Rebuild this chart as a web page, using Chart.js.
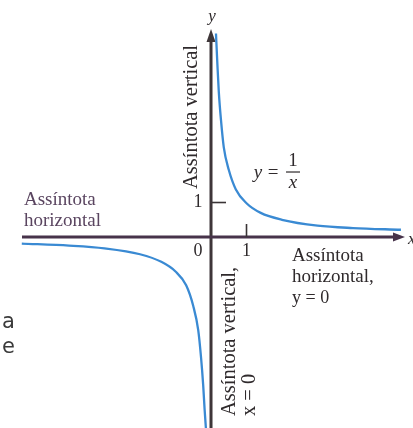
<!DOCTYPE html>
<html>
<head>
<meta charset="utf-8">
<script src="https://cdn.jsdelivr.net/npm/chart.js@4"></script>
<style>
  html, body { margin: 0; padding: 0; background: #ffffff; }
  #wrap { position: relative; width: 413px; height: 428px; }
</style>
</head>
<body>
<div id="wrap"><canvas id="c"></canvas></div>
<script>
// Values: right branch (x > 0) and left branch (x < 0)
const rightX = [0.14, 0.18, 0.22, 0.28, 0.36, 0.5, 0.7, 1.0, 1.4, 2.0, 3.0, 4.0, 5.35];
const rightY = [5.9, 5.0, 4.2, 3.4, 2.6, 1.95, 1.38, 0.98, 0.7, 0.5, 0.33, 0.26, 0.21];
const leftX  = [-5.33, -4.0, -3.0, -2.0, -1.4, -1.0, -0.7, -0.5, -0.36, -0.28, -0.22, -0.18, -0.14];
const leftY  = [-0.19, -0.25, -0.33, -0.5, -0.72, -1.0, -1.4, -2.0, -2.7, -3.5, -4.3, -5.0, -5.6];

// Tick values and labels
const xTickValues = [1];
const yTickValues = [1];
const originLabel = '0';

// Text labels
const axisNames = { x: 'x', y: 'y' };
const leftHorizontalLabel = ['Assíntota', 'horizontal'];
const rightHorizontalLabel = ['Assíntota', 'horizontal,', 'y = 0'];
const upperVerticalLabel = 'Assíntota vertical';
const lowerVerticalLabel = ['Assíntota vertical,', 'x = 0'];
const curveLabel = { lhs: 'y', eq: '=', num: '1', den: 'x' };
const pageFragments = ['a', 'e'];

const toPoints = (xs, ys) => xs.map((x, i) => ({ x: x, y: ys[i] }));

const SERIF = '"Liberation Serif", "DejaVu Serif", serif';

const annot = {
  id: 'annot',
  beforeDatasetsDraw(chart) {
    const ctx = chart.ctx;
    const xs = chart.scales.x, ys = chart.scales.y;
    const ox = xs.getPixelForValue(0), oy = ys.getPixelForValue(0);
    const area = chart.chartArea;
    ctx.save();
    // y axis
    ctx.strokeStyle = '#3e3639';
    ctx.fillStyle = '#3e3639';
    ctx.lineWidth = 3;
    ctx.beginPath();
    ctx.moveTo(ox, area.bottom);
    ctx.lineTo(ox, area.top + 38);
    ctx.stroke();
    ctx.beginPath();
    ctx.moveTo(ox, area.top + 29);
    ctx.lineTo(ox - 4.5, area.top + 42);
    ctx.lineTo(ox + 4.5, area.top + 42);
    ctx.closePath();
    ctx.fill();
    // x axis
    ctx.strokeStyle = '#47334a';
    ctx.fillStyle = '#47334a';
    ctx.beginPath();
    ctx.moveTo(area.left + 22, oy);
    ctx.lineTo(area.right - 16, oy);
    ctx.stroke();
    ctx.beginPath();
    ctx.moveTo(area.right - 8, oy);
    ctx.lineTo(area.right - 20, oy - 4.5);
    ctx.lineTo(area.right - 20, oy + 4.5);
    ctx.closePath();
    ctx.fill();
    // tick marks (drawn inward as in the figure)
    ctx.strokeStyle = '#3a3436';
    ctx.lineWidth = 1.6;
    xTickValues.forEach(v => {
      const px = xs.getPixelForValue(v);
      ctx.beginPath(); ctx.moveTo(px, oy - 13); ctx.lineTo(px, oy); ctx.stroke();
    });
    yTickValues.forEach(v => {
      const py = ys.getPixelForValue(v);
      ctx.beginPath(); ctx.moveTo(ox, py); ctx.lineTo(ox + 15, py); ctx.stroke();
    });
    ctx.restore();
  },
  afterDatasetsDraw(chart) {
    const ctx = chart.ctx;
    const xs = chart.scales.x, ys = chart.scales.y;
    const ox = xs.getPixelForValue(0), oy = ys.getPixelForValue(0);
    const area = chart.chartArea;
    ctx.save();
    ctx.fillStyle = '#2f2a2c';
    ctx.textBaseline = 'middle';

    // tick labels
    ctx.font = '18px ' + SERIF;
    ctx.textAlign = 'center';
    xTickValues.forEach(v => ctx.fillText(String(v), xs.getPixelForValue(v), oy + 14));
    yTickValues.forEach(v => ctx.fillText(String(v), ox - 13, ys.getPixelForValue(v)));
    ctx.fillText(originLabel, ox - 13, oy + 14);

    // axis names
    ctx.font = 'italic 17px ' + SERIF;
    ctx.fillText(axisNames.y, ox + 1, area.top + 17);
    ctx.textAlign = 'left';
    ctx.fillText(axisNames.x, area.right - 5, oy + 3);

    // y = 1/x
    ctx.font = 'italic 19px ' + SERIF;
    ctx.textAlign = 'center';
    ctx.fillText(curveLabel.lhs, ox + 47, oy - 64);
    ctx.font = '19px ' + SERIF;
    ctx.fillText(curveLabel.eq, ox + 62, oy - 64);
    ctx.fillText(curveLabel.num, ox + 82, oy - 76);
    ctx.font = 'italic 19px ' + SERIF;
    ctx.fillText(curveLabel.den, ox + 82, oy - 54);
    ctx.strokeStyle = '#2f2a2c';
    ctx.lineWidth = 1.2;
    ctx.beginPath(); ctx.moveTo(ox + 75, oy - 65); ctx.lineTo(ox + 89, oy - 65); ctx.stroke();

    // horizontal asymptote labels
    ctx.font = '19px ' + SERIF;
    ctx.textAlign = 'left';
    ctx.fillStyle = '#5a4560';
    ctx.fillText(leftHorizontalLabel[0], area.left + 24, oy - 37);
    ctx.fillText(leftHorizontalLabel[1], area.left + 24, oy - 16);
    ctx.fillStyle = '#2f2a2c';
    rightHorizontalLabel.forEach((t, i) => {
      if (i === 2) ctx.font = '18px ' + SERIF;
      ctx.fillText(t, ox + 81, oy + 19 + i * 21);
    });

    // vertical asymptote labels (rotated)
    ctx.font = '20.5px ' + SERIF;
    ctx.textAlign = 'left';
    ctx.save();
    ctx.translate(ox - 19, oy - 48);
    ctx.rotate(-Math.PI / 2);
    ctx.fillText(upperVerticalLabel, 0, 0);
    ctx.restore();

    ctx.save();
    ctx.translate(ox + 19, oy + 179);
    ctx.rotate(-Math.PI / 2);
    ctx.fillText(lowerVerticalLabel[0], 0, 0);
    ctx.restore();

    ctx.save();
    ctx.translate(ox + 39, oy + 179);
    ctx.rotate(-Math.PI / 2);
    ctx.fillText(lowerVerticalLabel[1], 0, 0);
    ctx.restore();

    // fragments of page text at the left edge
    ctx.font = '21px "DejaVu Sans", sans-serif';
    ctx.fillStyle = '#3a3a3a';
    ctx.fillText(pageFragments[0], area.left + 2, oy + 86);
    ctx.fillText(pageFragments[1], area.left + 2, oy + 111);
    ctx.restore();
  }
};

new Chart(document.getElementById('c'), {
  type: 'scatter',
  data: {
    datasets: [
      { data: toPoints(rightX, rightY), showLine: true, borderColor: '#3a8ad3', borderWidth: 2.3, pointRadius: 0, cubicInterpolationMode: 'monotone', fill: false },
      { data: toPoints(leftX, leftY), showLine: true, borderColor: '#3a8ad3', borderWidth: 2.3, pointRadius: 0, cubicInterpolationMode: 'monotone', fill: false }
    ]
  },
  options: {
    responsive: true,
    maintainAspectRatio: false,
    animation: false,
    layout: { padding: 0 },
    plugins: { legend: { display: false }, tooltip: { enabled: false } },
    scales: {
      x: { type: 'linear', display: false, min: -5.944, max: 5.690 },
      y: { type: 'linear', display: false, min: -5.536, max: 6.870 }
    }
  },
  plugins: [annot]
});
</script>
</body>
</html>
